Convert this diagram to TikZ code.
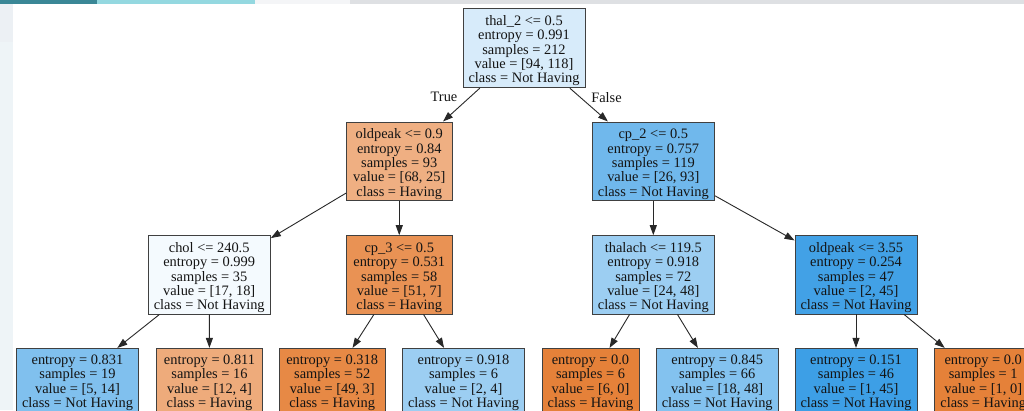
\documentclass[tikz,border=0pt]{standalone}
\usepackage{fontspec}
\setmainfont{Liberation Serif}
\usetikzlibrary{arrows.meta}
\definecolor{bordergray}{RGB}{64,64,64}
\definecolor{edgecol}{RGB}{40,40,40}
\definecolor{textcol}{RGB}{20,20,20}
\definecolor{leftstrip}{RGB}{238,244,247}
\definecolor{leftstriptop}{RGB}{236,240,244}
\definecolor{tealdark}{RGB}{58,135,150}
\definecolor{tealcyan}{RGB}{148,216,224}
\definecolor{topgray}{RGB}{222,224,227}
\definecolor{topwhite}{RGB}{244,245,247}
\definecolor{cRoot}{RGB}{215,235,250}
\definecolor{cOldA}{RGB}{239,175,130}
\definecolor{cCpTwo}{RGB}{112,184,236}
\definecolor{cChol}{RGB}{244,250,254}
\definecolor{cCpThree}{RGB}{233,146,84}
\definecolor{cThal}{RGB}{156,206,242}
\definecolor{cOldB}{RGB}{66,161,230}
\definecolor{cLa}{RGB}{128,192,238}
\definecolor{cLb}{RGB}{238,171,123}
\definecolor{cLc}{RGB}{231,137,69}
\definecolor{cLd}{RGB}{156,206,242}
\definecolor{cOr}{RGB}{229,129,57}
\definecolor{cLf}{RGB}{131,194,239}
\definecolor{cLg}{RGB}{61,159,230}
\newcommand\fstrut{\rule{0pt}{15.5pt}}
\begin{document}
\begin{tikzpicture}[x=1pt,y=-1pt,
  tn/.style={draw=bordergray, line width=0.9pt, inner sep=0pt, align=center,
    font=\fontsize{14.4}{14.3}\selectfont, text=textcol},
  edge/.style={draw=edgecol, line width=0.9pt, -{Triangle[length=10pt,width=7pt]}},
  elab/.style={font=\fontsize{14.4}{14.3}\selectfont, text=textcol, inner sep=0pt}
]
\useasboundingbox (0,0) rectangle (1024,410);
\fill[white] (0,0) rectangle (1024,410);
\fill[leftstrip] (0,0) rectangle (12.5,410);
\fill[leftstriptop] (0,0) rectangle (12.5,42);
\fill[topgray] (0,0) rectangle (1024,4);
\fill[topwhite] (255,0) rectangle (350,4);
\fill[tealcyan] (97,0) rectangle (255,4);
\fill[tealdark] (0,0) rectangle (97,4);

% level 0
\node[tn, fill=cRoot, minimum width=122pt, minimum height=79.5pt] (root) at (524,48)
  {\fstrut thal\_2 <= 0.5\\entropy = 0.991\\samples = 212\\value = [94, 118]\\class = Not Having};
% level 1
\node[tn, fill=cOldA, minimum width=105.5pt, minimum height=78.7pt] (oldA) at (399.25,161.3)
  {\fstrut oldpeak <= 0.9\\entropy = 0.84\\samples = 93\\value = [68, 25]\\class = Having};
\node[tn, fill=cCpTwo, minimum width=122.7pt, minimum height=78.7pt] (cptwo) at (653.3,161.3)
  {\fstrut cp\_2 <= 0.5\\entropy = 0.757\\samples = 119\\value = [26, 93]\\class = Not Having};
% level 2
\node[tn, fill=cChol, minimum width=122.3pt, minimum height=78.3pt] (chol) at (209.2,274.8)
  {\fstrut chol <= 240.5\\entropy = 0.999\\samples = 35\\value = [17, 18]\\class = Not Having};
\node[tn, fill=cCpThree, minimum width=105.5pt, minimum height=78.3pt] (cpthree) at (399.25,274.8)
  {\fstrut cp\_3 <= 0.5\\entropy = 0.531\\samples = 58\\value = [51, 7]\\class = Having};
\node[tn, fill=cThal, minimum width=122.7pt, minimum height=78.3pt] (thal) at (653.3,274.8)
  {\fstrut thalach <= 119.5\\entropy = 0.918\\samples = 72\\value = [24, 48]\\class = Not Having};
\node[tn, fill=cOldB, minimum width=122pt, minimum height=78.3pt] (oldB) at (856,274.8)
  {\fstrut oldpeak <= 3.55\\entropy = 0.254\\samples = 47\\value = [2, 45]\\class = Not Having};
% level 3
\node[tn, fill=cLa, minimum width=121.6pt, minimum height=62.7pt] (la) at (77.5,379.7)
  {\fstrut entropy = 0.831\\samples = 19\\value = [5, 14]\\class = Not Having};
\node[tn, fill=cLb, minimum width=105.6pt, minimum height=62.7pt] (lb) at (209.5,379.7)
  {\fstrut entropy = 0.811\\samples = 16\\value = [12, 4]\\class = Having};
\node[tn, fill=cLc, minimum width=105.7pt, minimum height=62.7pt] (lc) at (332.2,379.7)
  {\fstrut entropy = 0.318\\samples = 52\\value = [49, 3]\\class = Having};
\node[tn, fill=cLd, minimum width=122.4pt, minimum height=62.7pt] (ld) at (463.5,379.7)
  {\fstrut entropy = 0.918\\samples = 6\\value = [2, 4]\\class = Not Having};
\node[tn, fill=cOr, minimum width=97pt, minimum height=62.7pt] (le) at (590.5,379.7)
  {\fstrut entropy = 0.0\\samples = 6\\value = [6, 0]\\class = Having};
\node[tn, fill=cLf, minimum width=122.3pt, minimum height=62.7pt] (lf) at (717.2,379.7)
  {\fstrut entropy = 0.845\\samples = 66\\value = [18, 48]\\class = Not Having};
\node[tn, fill=cLg, minimum width=122pt, minimum height=62.7pt] (lg) at (856,379.7)
  {\fstrut entropy = 0.151\\samples = 46\\value = [1, 45]\\class = Not Having};
\node[tn, fill=cOr, minimum width=97pt, minimum height=62.7pt] (lh) at (983.2,379.7)
  {\fstrut entropy = 0.0\\samples = 1\\value = [1, 0]\\class = Having};

% edges
\draw[edge] (root) -- (oldA);
\draw[edge] (root) -- (cptwo);
\draw[edge] (oldA) -- (chol);
\draw[edge] (oldA) -- (cpthree);
\draw[edge] (cptwo) -- (thal);
\draw[edge] (cptwo) -- (oldB);
\draw[edge] (chol) -- (la);
\draw[edge] (chol) -- (lb);
\draw[edge] (cpthree) -- (lc);
\draw[edge] (cpthree) -- (ld);
\draw[edge] (thal) -- (le);
\draw[edge] (thal) -- (lf);
\draw[edge] (oldB) -- (lg);
\draw[edge] (oldB) -- (lh);

\node[elab] (ltrue) at (444,97.3) {True};
\node[elab] (lfalse) at (606.5,97.3) {False};
\end{tikzpicture}
\end{document}
